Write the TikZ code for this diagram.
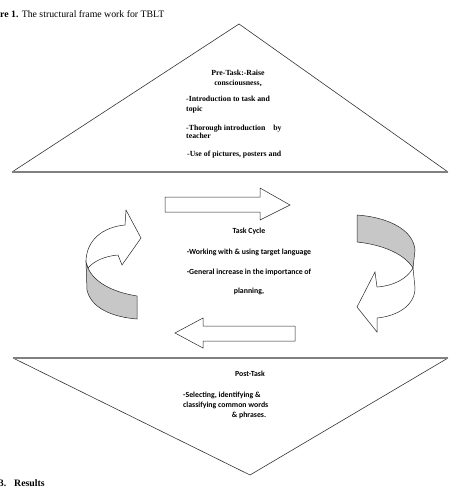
\documentclass[tikz,border=0pt]{standalone}
\usepackage{fontspec}
\setmainfont{Liberation Serif}
\newfontfamily\calibri{Carlito}
\usetikzlibrary{positioning}

\begin{document}
\begin{tikzpicture}[
    x=1pt, y=-1pt,
    edge/.style={draw=black!80, line width=0.6pt},
    baseedge/.style={draw=black!50, line width=1.3pt},
    blockarrow/.style={draw=black!85, line width=0.5pt, fill=white, line join=miter},
    backface/.style={blockarrow, fill=black!22},
    seriftext/.style={font=\fontsize{7.8}{9.5}\selectfont\bfseries, inner sep=0pt},
    caltext/.style={font=\calibri\fontsize{7.8}{10}\selectfont\bfseries, inner sep=0pt},
    captext/.style={font=\fontsize{9.8}{11}\selectfont, inner sep=0pt}
]
    \useasboundingbox (0,0) rectangle (451,492);

    % Caption and heading
    \node[captext, anchor=base west] (caption) at (0,18) {\textbf{re 1.} The structural frame work for TBLT};
    \node[captext, anchor=base east] (secnum) at (6.5,486) {\textbf{3.}};
    \node[captext, anchor=base west] (results) at (14,486) {\textbf{Results}};

    % Pre-task triangle
    \coordinate (preL) at (12,172);
    \coordinate (preR) at (448,172);
    \coordinate (preTop) at (239,24);
    \draw[edge] (preL) -- (preTop) -- (preR);
    \draw[baseedge] (preL) -- (preR);

    \node[seriftext, anchor=base] (preTitle) at (238,76) {Pre-Task:-Raise};
    \node[seriftext, anchor=base] (preTitleB) at (238,86) {consciousness,};
    \node[seriftext, anchor=base west] (preA) at (186,102) {-Introduction to task and};
    \node[seriftext, anchor=base west] (preAb) at (186,112) {topic};
    \node[seriftext, anchor=base west] (preB) at (186,130) {-Thorough introduction\hspace{6pt} by};
    \node[seriftext, anchor=base west] (preBb) at (186,139) {teacher};
    \node[seriftext, anchor=base west] (preC) at (187,156) {-Use of pictures, posters and};

    % Post-task triangle
    \coordinate (postL) at (13,358);
    \coordinate (postR) at (448,358);
    \coordinate (postBot) at (250,475);
    \draw[edge] (postL) -- (postBot) -- (postR);
    \draw[baseedge] (postL) -- (postR);

    \node[caltext, anchor=base] (postTitle) at (250,376) {Post-Task};
    \node[caltext, anchor=base west] (postA) at (183,397) {-Selecting, identifying \&};
    \node[caltext, anchor=base west] (postAb) at (183,407) {classifying common words};
    \node[caltext, anchor=base] (postAc) at (249,417) {\& phrases.};

    % Task cycle text
    \node[caltext, anchor=base] (cycTitle) at (249,233) {Task Cycle};
    \node[caltext, anchor=base] (cycA) at (249,254) {-Working with \& using target language};
    \node[caltext, anchor=base] (cycB) at (249,274) {-General increase in the importance of};
    \node[caltext, anchor=base] (cycC) at (249,293) {planning,};

    % Straight block arrows
    \draw[blockarrow] (165,197) -- (260,197) -- (260,188) -- (290,205)
        -- (260,220) -- (260,212) -- (165,212) -- cycle;
    \draw[blockarrow] (295,326) -- (203,326) -- (203,318) -- (175,333)
        -- (203,348) -- (203,341) -- (295,341) -- cycle;

    % Curved arrow, left side
    \draw[backface] (86,262) -- (87,290) .. controls (91,308) and (112,317) .. (137,319)
        -- (137,296) .. controls (112,292) and (94,282) .. (88,268) -- cycle;
    \draw[blockarrow] (88,268) -- (86,262) .. controls (86,240) and (103,227) .. (125,225)
        -- (126,210) -- (141,238) -- (122,265) -- (118,255)
        .. controls (105,256) and (94,261) .. (88,268) -- cycle;

    % Curved arrow, right side
    \draw[backface] (357,215) .. controls (385,217) and (413,228) .. (415,250)
        -- (413,268) .. controls (405,255) and (385,245) .. (357,242) -- cycle;
    \draw[blockarrow] (413,268) -- (415,288) .. controls (415,305) and (398,316) .. (377,318)
        -- (377,332) -- (357,307) -- (375,272) -- (377,287)
        .. controls (393,286) and (407,279) .. (413,268) -- cycle;
\end{tikzpicture}
\end{document}
